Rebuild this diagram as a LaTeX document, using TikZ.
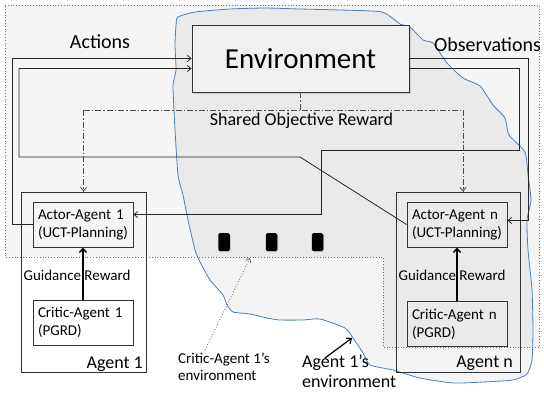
\documentclass[tikz,border=0pt]{standalone}
\usepackage{fontspec}
\setmainfont{Carlito}
\usetikzlibrary{arrows.meta,shadows}
\begin{document}
\begin{tikzpicture}[x=1pt,y=-1pt,
  ln/.style={draw=black!85, line width=0.8pt},
  arr/.style={-{Straight Barb[length=3.5pt,width=6pt]}},
  thickarr/.style={draw=black, line width=1.4pt, -{Straight Barb[length=4pt,width=7pt]}},
  box/.style={draw=black!80, line width=0.9pt},
  innerbox/.style={box, text width=90pt, align=left, inner xsep=5pt, inner ysep=0pt, minimum height=45pt, font=\fontsize{15}{18}\selectfont},
  dd/.style={draw=black!70, line width=0.8pt, dash pattern=on 6pt off 2pt on 1.5pt off 2pt},
  lbl/.style={inner sep=0pt},
  blk/.style={fill=black, rounded corners=1.5pt, minimum width=11.5pt, minimum height=18pt, inner sep=0pt, drop shadow={shadow xshift=1pt, shadow yshift=-1pt, opacity=0.3}},
  blueline/.style={draw={rgb,255:red,74;green,126;blue,187}, line width=0.8pt}
]
\useasboundingbox (0,0) rectangle (544,392);
% dotted L region
\draw[draw=black!55, dotted, line width=0.8pt, fill=black!4] (5,5) -- (539,5) -- (539,347) -- (383,347) -- (383,257) -- (5,257) -- cycle;
% Agent 1's environment (blue freehand region)
\path[blueline, fill=black, fill opacity=0.045] plot[smooth cycle, tension=0.35] coordinates {
 (178,17) (195,12) (230,9) (265,8) (300,9) (340,10) (382,12) (400,24) (410,27) (423,40) (433,43) (447,63) (463,78) (480,86) (493,105) (505,118) (509,135) (525,152) (528,175) (531,200) (527,220) (528,250) (532,290) (533,330) (532,360) (527,374) (513,380) (483,382) (453,383) (420,378) (393,370) (370,365) (363,353) (353,338) (345,328) (320,319) (303,320) (280,320) (267,318) (250,314) (233,312) (227,305) (223,295) (210,280) (200,262) (195,250) (188,220) (183,195) (178,175) (175,130) (174,110) (173,85) (176,70) (175,45) (176,25)};
% Environment
\node[box, fill=black!6, drop shadow={shadow xshift=1.5pt, shadow yshift=-1.5pt, opacity=0.3}, minimum width=217pt, minimum height=67pt, inner sep=0pt, font=\fontsize{29}{34}\selectfont] (env) at (300.5,58.5) {Environment};
% Agent boxes
\node[box, minimum width=125pt, minimum height=180pt, inner sep=0pt] (ag1) at (83.5,282) {};
\node[box, minimum width=124pt, minimum height=180pt, inner sep=0pt] (agn) at (458,282) {};
\node[innerbox] (act1) at (83,224.5) {Actor-Agent 1\\\mbox{(UCT-Planning)}};
\node[innerbox] (crit1) at (83,322.5) {Critic-Agent 1\\(PGRD)};
\node[innerbox] (actn) at (457,224.5) {Actor-Agent n\\\mbox{(UCT-Planning)}};
\node[innerbox] (critn) at (457,324) {Critic-Agent n\\(PGRD)};
\node[lbl, anchor=base east, font=\fontsize{18}{21}\selectfont] (ag1l) at (143,368) {Agent 1};
\node[lbl, anchor=base east, font=\fontsize{18}{21}\selectfont] (agnl) at (513,367.5) {Agent n};
% guidance
\draw[thickarr] (crit1.north) -- (act1.south);
\draw[thickarr] (critn.north) -- (actn.south);
\node[lbl, anchor=base, font=\fontsize{15}{18}\selectfont] (g1) at (77,280.5) {Guidance Reward};
\node[lbl, anchor=base, font=\fontsize{15}{18}\selectfont] (gn) at (452,280.5) {Guidance Reward};
% labels
\node[lbl, anchor=base, font=\fontsize{20}{24}\selectfont] (actl) at (100,48) {Actions};
\node[lbl, anchor=base west, font=\fontsize{20}{24}\selectfont] (obsl) at (434,51.5) {Observations};
\node[lbl, anchor=base, font=\fontsize{18}{21}\selectfont] (sor) at (301.5,125) {Shared Objective Reward};
% actions
\draw[ln, arr] (act1.west) -| (12,58.5) -- (env.west);
\draw[ln, arr] (actn.west) -- (300,157) -- (19,157) -- (19,68.5) -- ([yshift=-10pt]env.west);
% observations
\draw[ln, arr] (env.east) -| (528,220.5) -- ([yshift=4pt]actn.east);
\draw[ln, arr] ([yshift=-10pt]env.east) -- (519,68.5) -- (519,150) -- (321,150) -- (321,214.5) -- ([yshift=10pt]act1.east);
% shared objective reward
\coordinate (sl) at (83.5,110);
\coordinate (sr) at (463,110);
\draw[dd] (env.south) -- (env.south |- sl);
\draw[dd] (sl) -- (sr);
\draw[dd, arr] (sl) -- (ag1.north);
\draw[dd, arr] (sr) -- (sr |- agn.north);
% dots
\node[blk] (d1) at (224,242) {};
\node[blk] (d2) at (271.5,242) {};
\node[blk] (d3) at (317.5,242) {};
% critic env label
\node[lbl, anchor=north west, align=left, font=\fontsize{15}{17}\selectfont] (cenv) at (178,352.5) {Critic-Agent 1’s\\environment};
\coordinate (ca) at (205,350);
\coordinate (cb) at (250,258);
\draw[draw=black!60, dotted, line width=0.8pt, arr] (ca) -- (cb);
% agent 1 env label
\node[lbl, anchor=north west, align=left, font=\fontsize{18}{20}\selectfont] (aenv) at (302,355) {Agent 1’s\\environment};
\coordinate (ea) at (325,358);
\coordinate (eb) at (352,338);
\draw[draw=black, line width=1.2pt, -{Straight Barb[length=4pt,width=7pt]}] (ea) -- (eb);
\end{tikzpicture}
\end{document}
